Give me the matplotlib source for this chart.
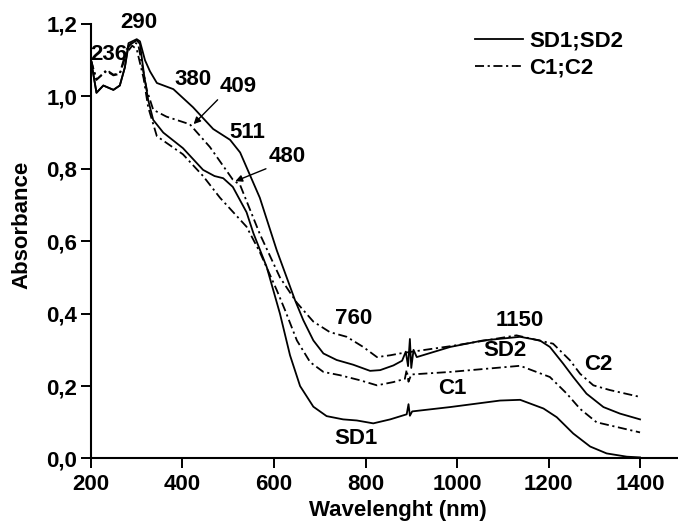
import matplotlib
matplotlib.use('Agg')
import matplotlib.pyplot as plt

plt.rcParams['font.family'] = ['Liberation Sans', 'DejaVu Sans']
plt.rcParams['font.weight'] = 'bold'

# values (nm, absorbance)
wl_sd1 = [200, 212, 227, 249, 263, 274, 282, 300, 307, 316, 325, 336, 358, 401, 445, 470,
          489, 510, 540, 555, 584, 613, 635, 657, 686, 715, 751, 781, 817, 854, 890, 894,
          897, 902, 985, 1094, 1138, 1189, 1218, 1254, 1291, 1327, 1371, 1400]
abs_sd1 = [1.10, 1.01, 1.03, 1.018, 1.03, 1.08, 1.14, 1.155, 1.145, 1.06, 0.99, 0.935, 0.90,
           0.857, 0.797, 0.78, 0.774, 0.75, 0.68, 0.622, 0.529, 0.40, 0.285, 0.20, 0.143,
           0.117, 0.108, 0.105, 0.097, 0.108, 0.122, 0.15, 0.118, 0.13, 0.142, 0.16, 0.162,
           0.138, 0.114, 0.069, 0.033, 0.014, 0.005, 0.003]

wl_sd2 = [200, 212, 227, 249, 263, 274, 282, 300, 307, 318, 329, 344, 380, 423, 467, 504,
          526, 569, 606, 646, 664, 686, 708, 737, 773, 810, 832, 861, 880, 888, 893, 897,
          900, 905, 912, 985, 1057, 1138, 1181, 1203, 1232, 1254, 1283, 1320, 1356, 1400]
abs_sd2 = [1.10, 1.01, 1.03, 1.018, 1.03, 1.08, 1.147, 1.158, 1.152, 1.10, 1.069, 1.037,
           1.02, 0.97, 0.91, 0.88, 0.845, 0.72, 0.575, 0.437, 0.382, 0.326, 0.29, 0.272,
           0.259, 0.242, 0.244, 0.257, 0.27, 0.295, 0.255, 0.33, 0.25, 0.30, 0.28, 0.308,
           0.326, 0.336, 0.326, 0.308, 0.262, 0.225, 0.179, 0.142, 0.124, 0.108]

wl_c1 = [200, 212, 234, 249, 263, 278, 290, 300, 315, 325, 344, 401, 445, 482, 540, 569,
         606, 624, 650, 679, 708, 744, 788, 825, 861, 886, 890, 894, 900, 985, 1138, 1203,
         1240, 1269, 1305, 1349, 1400]
abs_c1 = [1.10, 1.046, 1.07, 1.058, 1.062, 1.12, 1.14, 1.13, 1.05, 0.97, 0.89, 0.84, 0.78,
          0.72, 0.64, 0.57, 0.465, 0.41, 0.326, 0.266, 0.239, 0.23, 0.216, 0.202, 0.211,
          0.22, 0.245, 0.212, 0.232, 0.239, 0.256, 0.225, 0.179, 0.137, 0.10, 0.087, 0.072]

wl_c2 = [200, 212, 234, 249, 263, 278, 290, 303, 322, 336, 365, 416, 460, 510, 526, 569,
         613, 650, 686, 722, 759, 795, 825, 854, 875, 985, 1130, 1210, 1247, 1269, 1298,
         1334, 1400]
abs_c2 = [1.10, 1.046, 1.073, 1.06, 1.064, 1.13, 1.15, 1.145, 1.018, 0.963, 0.944, 0.923,
          0.86, 0.77, 0.755, 0.62, 0.50, 0.43, 0.378, 0.349, 0.336, 0.308, 0.28, 0.285,
          0.29, 0.31, 0.34, 0.317, 0.271, 0.234, 0.202, 0.189, 0.17]

x_ticks = [200, 400, 600, 800, 1000, 1200, 1400]
y_ticks = [0.0, 0.2, 0.4, 0.6, 0.8, 1.0, 1.2]
y_tick_labels = ['0,0', '0,2', '0,4', '0,6', '0,8', '1,0', '1,2']

# peak labels: text, x, y
peak_labels = [('236', 239, 1.117), ('290', 305, 1.203), ('380', 423, 1.048),
               ('511', 541, 0.899), ('760', 775, 0.387), ('1150', 1138, 0.382),
               ('SD2', 1105, 0.299), ('C2', 1308, 0.26), ('C1', 989, 0.194),
               ('SD1', 779, 0.055)]
# arrowed labels: text, text pos, arrow head
arrow_labels = [('409', (521, 1.026), (420, 0.918)),
                ('480', (628, 0.833), (510, 0.763))]

fs = 16
fig = plt.figure(figsize=(6.78, 5.29), dpi=100)
ax = fig.add_axes([0.1342, 0.1333, 0.8658, 0.8214])

dashdot = (0, (5, 2, 1.2, 2))
ax.plot(wl_sd1, abs_sd1, color='k', lw=1.3, label='SD1;SD2')
ax.plot(wl_sd2, abs_sd2, color='k', lw=1.3)
ax.plot(wl_c1, abs_c1, color='k', lw=1.3, linestyle=dashdot, label='C1;C2')
ax.plot(wl_c2, abs_c2, color='k', lw=1.3, linestyle=dashdot)

for txt, x, y in peak_labels:
    ax.text(x, y, txt, ha='center', va='center', fontsize=fs, fontweight='bold')
for txt, xy_text, xy_head in arrow_labels:
    ax.annotate('', xy=xy_head, xytext=(xy_text[0] - 40, xy_text[1] - 0.03),
                arrowprops=dict(arrowstyle='-|>', color='k', lw=1, mutation_scale=10))
    ax.text(xy_text[0], xy_text[1], txt, ha='center', va='center', fontsize=fs,
            fontweight='bold')

ax.set_xlim(200, 1483)
ax.set_ylim(0, 1.2)
ax.set_xticks(x_ticks)
ax.set_xticklabels([str(t) for t in x_ticks])
ax.set_yticks(y_ticks)
ax.set_yticklabels(y_tick_labels)
ax.tick_params(axis='both', direction='out', length=7, width=1.4, labelsize=fs)
ax.tick_params(axis='x', pad=4.5)
ax.tick_params(axis='y', pad=3)

for s in ['top', 'right']:
    ax.spines[s].set_visible(False)
for s in ['left', 'bottom']:
    ax.spines[s].set_linewidth(1.5)

ax.set_xlabel('Wavelenght (nm)', fontsize=fs, fontweight='bold')
ax.set_ylabel('Absorbance', fontsize=fs, fontweight='bold')
ax.xaxis.set_label_coords(0.523, -0.095)
ax.yaxis.set_label_coords(-0.099, 0.537)

ax.legend(loc='upper left', bbox_to_anchor=(475 / 678, 1 - 31 / 529),
          bbox_transform=fig.transFigure, frameon=False, fontsize=fs,
          handlelength=2.15, handletextpad=0.3, labelspacing=0.25,
          borderpad=0, borderaxespad=0)

fig.savefig('out.png', dpi=100)
